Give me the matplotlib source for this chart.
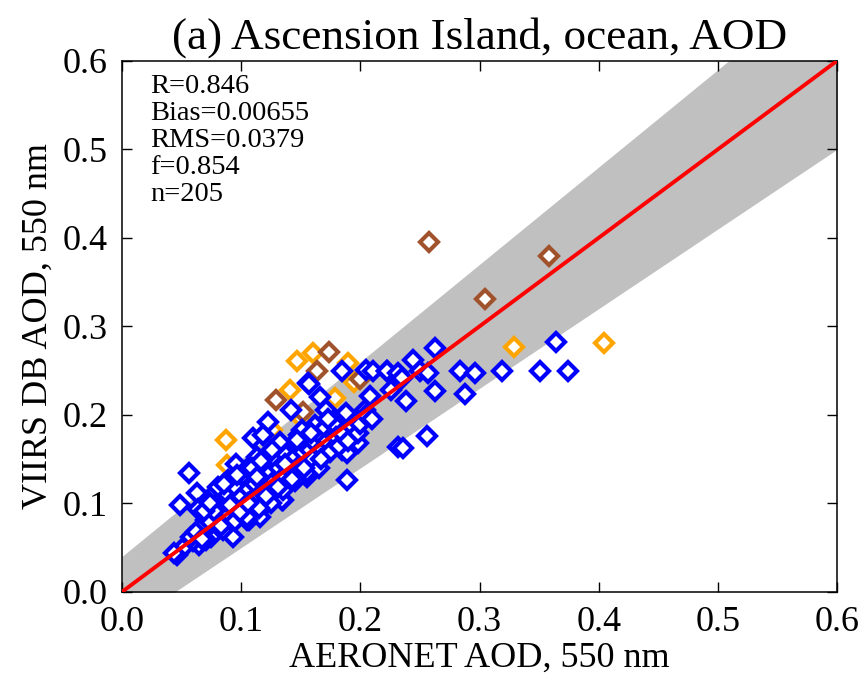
import numpy as np
import matplotlib
matplotlib.use('Agg')
import matplotlib.pyplot as plt

plt.rcParams['font.family'] = ['Liberation Serif', 'DejaVu Serif']

# AERONET (x) vs VIIRS DB (y) AOD
blue_x = [0.185, 0.205, 0.211, 0.222, 0.156, 0.166, 0.208, 0.142, 0.171, 0.185,
          0.197, 0.204, 0.162, 0.123, 0.110, 0.118, 0.133, 0.096, 0.149, 0.164,
          0.177, 0.185, 0.198, 0.124, 0.113, 0.138, 0.158, 0.232,
          0.263, 0.364, 0.244, 0.222, 0.232, 0.235, 0.250, 0.257, 0.284, 0.296,
          0.319, 0.351, 0.374, 0.226, 0.263, 0.238, 0.288, 0.256, 0.236,
          0.157, 0.188, 0.151, 0.183, 0.145, 0.164, 0.189, 0.155, 0.145, 0.189,
          0.135, 0.128,
          0.056, 0.049, 0.063, 0.078, 0.064, 0.089, 0.096, 0.107, 0.102, 0.107,
          0.089, 0.080, 0.075, 0.046, 0.051, 0.122, 0.116, 0.124, 0.084, 0.071,
          0.093, 0.065, 0.044, 0.105, 0.134, 0.071,
          0.070, 0.072, 0.075, 0.078, 0.080, 0.082, 0.085, 0.088, 0.090, 0.092,
          0.095, 0.098, 0.100, 0.100, 0.103, 0.105, 0.108, 0.110, 0.112, 0.115,
          0.115, 0.118, 0.120, 0.122, 0.125, 0.128, 0.130, 0.132, 0.135, 0.138,
          0.140, 0.142, 0.145, 0.148, 0.150, 0.152, 0.155, 0.158, 0.160, 0.162,
          0.165, 0.168, 0.170, 0.172, 0.175, 0.178, 0.180, 0.182, 0.185, 0.190,
          0.193, 0.198, 0.200, 0.205, 0.210, 0.125, 0.135, 0.145, 0.155, 0.165,
          0.085, 0.095, 0.105, 0.115, 0.060, 0.065, 0.068,
          0.058, 0.062, 0.067, 0.073, 0.077, 0.083, 0.087, 0.091, 0.094, 0.099,
          0.102, 0.106, 0.109, 0.113, 0.117, 0.121, 0.126, 0.131, 0.137, 0.143,
          0.147, 0.153, 0.159, 0.167, 0.173, 0.069, 0.074, 0.081, 0.086, 0.097]
blue_y = [0.249, 0.251, 0.249, 0.250, 0.236, 0.220, 0.221, 0.206, 0.205, 0.198,
          0.194, 0.206, 0.189, 0.192, 0.174, 0.177, 0.169, 0.145, 0.177, 0.175,
          0.169, 0.160, 0.168, 0.158, 0.153, 0.149, 0.153, 0.164,
          0.276, 0.282, 0.262, 0.249, 0.247, 0.242, 0.250, 0.247, 0.249, 0.247,
          0.249, 0.249, 0.249, 0.228, 0.227, 0.216, 0.224, 0.176, 0.163,
          0.235, 0.202, 0.183, 0.186, 0.160, 0.149, 0.157, 0.130, 0.130, 0.127,
          0.104, 0.112,
          0.134, 0.098, 0.112, 0.112, 0.094, 0.127, 0.121, 0.141, 0.101, 0.081,
          0.076, 0.070, 0.062, 0.042, 0.050, 0.101, 0.085, 0.119, 0.093, 0.081,
          0.062, 0.053, 0.044, 0.081, 0.104, 0.059,
          0.070, 0.085, 0.078, 0.090, 0.100, 0.083, 0.095, 0.105, 0.088, 0.110,
          0.098, 0.115, 0.108, 0.125, 0.092, 0.118, 0.130, 0.105, 0.122, 0.138,
          0.110, 0.128, 0.145, 0.115, 0.135, 0.125, 0.148, 0.140, 0.130, 0.155,
          0.145, 0.138, 0.152, 0.165, 0.145, 0.158, 0.170, 0.160, 0.150, 0.168,
          0.178, 0.162, 0.185, 0.170, 0.158, 0.190, 0.175, 0.165, 0.180, 0.170,
          0.188, 0.180, 0.190, 0.200, 0.195, 0.100, 0.115, 0.125, 0.135, 0.140,
          0.070, 0.080, 0.085, 0.095, 0.058, 0.065, 0.075,
          0.062, 0.068, 0.060, 0.080, 0.092, 0.075, 0.112, 0.098, 0.120, 0.090,
          0.132, 0.100, 0.140, 0.130, 0.148, 0.108, 0.160, 0.118, 0.145, 0.128,
          0.172, 0.140, 0.180, 0.150, 0.195, 0.092, 0.100, 0.118, 0.122, 0.132]

orange_x = [0.160, 0.147, 0.190, 0.195, 0.141, 0.179, 0.151, 0.126, 0.087, 0.088,
            0.329, 0.404, 0.128]
orange_y = [0.270, 0.261, 0.259, 0.237, 0.228, 0.219, 0.195, 0.183, 0.172, 0.143,
            0.277, 0.281, 0.157]

brown_x = [0.258, 0.305, 0.358, 0.174, 0.164, 0.200, 0.129, 0.152]
brown_y = [0.395, 0.331, 0.379, 0.271, 0.250, 0.241, 0.217, 0.203]

stats = ['R=0.846', 'Bias=0.00655', 'RMS=0.0379', 'f=0.854', 'n=205']

fig = plt.figure(figsize=(8.64, 6.82), dpi=100)
ax = fig.add_axes([0.141, 0.132, 0.828, 0.779])

# expected error envelope +-(0.04 + 0.1*AOD)
xx = np.array([0.0, 0.6])
ax.fill_between(xx, xx - (0.04 + 0.1 * xx), xx + (0.04 + 0.1 * xx),
                color='#c0c0c0', lw=0, zorder=1)

mk = dict(marker='D', ls='none', ms=9.3, mew=3.0, mfc='white', zorder=3)
ax.plot(orange_x, orange_y, mec='#ffa500', **mk)
ax.plot(brown_x, brown_y, mec='#a0522d', **mk)
ax.plot(blue_x, blue_y, mec='#0000ff', **mk)

ax.plot(xx, xx, color='red', lw=2.8, zorder=4)

ax.set_xlim(0, 0.6)
ax.set_ylim(0, 0.6)
ticks = [0.0, 0.1, 0.2, 0.3, 0.4, 0.5, 0.6]
ax.set_xticks(ticks)
ax.set_yticks(ticks)
ax.set_xticklabels(['%.1f' % t for t in ticks])
ax.set_yticklabels(['%.1f' % t for t in ticks])
ax.tick_params(direction='in', length=7, width=1, top=True, right=True,
               labelsize=26, pad=10)
for s in ax.spines.values():
    s.set_linewidth(1.1)

ax.set_xlabel('AERONET AOD, 550 nm', fontsize=26, labelpad=2)
ax.set_ylabel('VIIRS DB AOD, 550 nm', fontsize=26, labelpad=6)
ax.set_title('(a) Ascension Island, ocean, AOD', fontsize=32.5, pad=9)

ax.text(0.04, 0.975, '\n'.join(stats), transform=ax.transAxes, fontsize=20.5,
        va='top', ha='left', linespacing=1.1, zorder=5)

fig.savefig('out.png', dpi=100)
